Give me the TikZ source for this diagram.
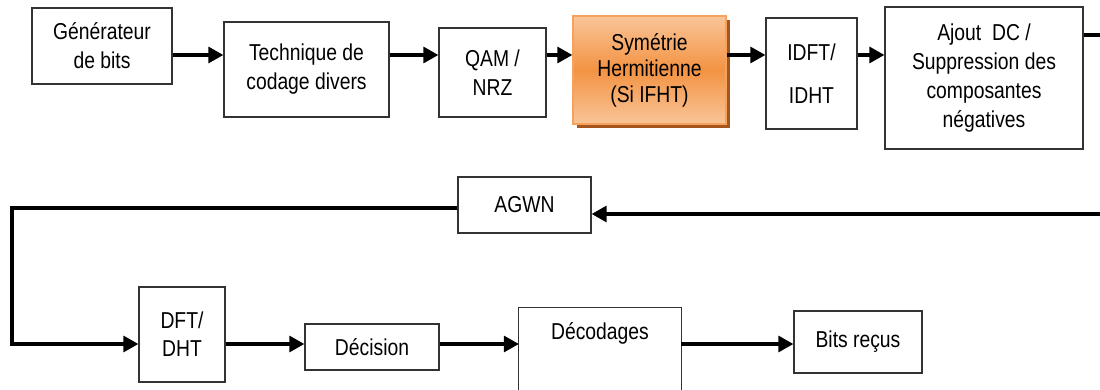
\documentclass[tikz,border=0pt]{standalone}
\usepackage{fontspec}
\setmainfont{Liberation Sans}[FakeStretch=0.84]
\usetikzlibrary{arrows.meta,shadows}
\definecolor{symtop}{HTML}{F9C598}
\definecolor{symmid}{HTML}{F39343}
\definecolor{symborder}{HTML}{F5A25E}
\definecolor{symshadow}{HTML}{A5561C}
\begin{document}
\begin{tikzpicture}[x=1pt,y=-1pt,
  box/.style={draw=black!80, line width=1.3pt, inner sep=0pt, align=center,
    font=\fontsize{23}{29}\selectfont},
  orangebox/.style={box, draw=symborder, line width=1.3pt,
    top color=symtop, bottom color=symtop, middle color=symmid,
    drop shadow={shadow xshift=4pt, shadow yshift=-4pt, fill=symshadow, opacity=1}},
  conn/.style={line width=3.2pt, -{Triangle[length=15pt,width=16pt]}},
  plain/.style={line width=3.2pt},
  txt/.style={inner sep=0pt, font=\fontsize{23}{29}\selectfont}]
\useasboundingbox (0,0) rectangle (1100,390);
\fill[white] (0,0) rectangle (1100,390);

\node[box, minimum width=140pt, minimum height=76pt] (gen) at (102,46) {Générateur\\de bits};
\node[box, minimum width=165pt, minimum height=95pt] (tech) at (306.5,69.5) {Technique de\\codage divers};
\node[box, minimum width=107pt, minimum height=89pt] (qam) at (492.5,72.5) {QAM /\\NRZ};
\node[orangebox, minimum width=153pt, minimum height=108pt,
  font=\fontsize{23}{26}\selectfont] (sym) at (649.5,70) {Symétrie\\Hermitienne\\(Si IFHT)};
\node[box, minimum width=91pt, minimum height=111pt,
  font=\fontsize{23}{43}\selectfont] (idft) at (811.5,73.5) {IDFT/\\IDHT};
\node[box, minimum width=198pt, minimum height=142pt] (ajout) at (984,78) {Ajout\ \ DC /\\Suppression des\\composantes\\négatives};

\node[box, minimum width=133pt, minimum height=56pt] (agwn) at (524.5,205) {AGWN};
\node[box, minimum width=86pt, minimum height=95pt,
  font=\fontsize{23}{28}\selectfont] (dft) at (182,334.5) {DFT/\\DHT};
\node[box, minimum width=134pt, minimum height=46pt] (dec) at (372,347) {Décision};
\node[inner sep=0pt, minimum width=162pt, minimum height=82pt] (decod) at (600,349) {};
\draw[draw=black!80, line width=1.3pt] (decod.south west) -- (decod.north west) -- (decod.north east) -- (decod.south east);
\node[txt] (decodt) at (600,333) {Décodages};
\node[box, minimum width=128pt, minimum height=62pt] (bits) at (858,342) {Bits reçus};

\coordinate (rowA) at (0,55);
\coordinate (rowB) at (0,344);
\coordinate (rowC) at (0,208);
\coordinate (outA) at (1100,35);
\coordinate (outB) at (1100,214);
\coordinate (lft) at (12,0);

\draw[conn] (gen.east |- rowA) -- (tech.west |- rowA);
\draw[conn] (tech.east |- rowA) -- (qam.west |- rowA);
\draw[conn] (qam.east |- rowA) -- (sym.west |- rowA);
\draw[conn] (sym.east |- rowA) -- (idft.west |- rowA);
\draw[conn] (idft.east |- rowA) -- (ajout.west |- rowA);
\draw[plain] (ajout.east |- outA) -- (outA);
\draw[conn] (outB) -- (agwn.east |- outB);
\draw[conn] (agwn.west |- rowC) -- (lft |- rowC) -- (lft |- rowB) -- (dft.west |- rowB);
\draw[conn] (dft.east |- rowB) -- (dec.west |- rowB);
\draw[conn] (dec.east |- rowB) -- (decod.west |- rowB);
\draw[conn] (decod.east |- rowB) -- (bits.west |- rowB);
\end{tikzpicture}
\end{document}
